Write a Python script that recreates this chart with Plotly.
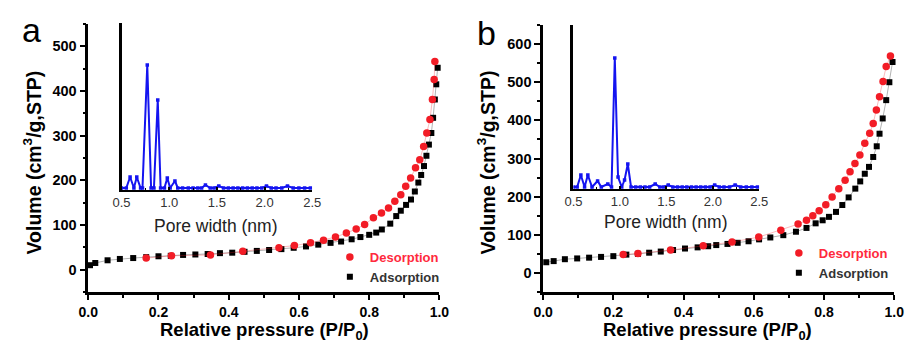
import plotly.graph_objects as go

# ---------------- data ----------------
# panel a isotherm
a_ads_p = [0.005, 0.02, 0.055, 0.09, 0.128, 0.165, 0.20, 0.235, 0.27, 0.305, 0.34, 0.375, 0.41, 0.445,
           0.48, 0.515, 0.55, 0.585, 0.62, 0.655, 0.69, 0.72, 0.75, 0.775, 0.80, 0.82, 0.836, 0.86,
           0.877, 0.89, 0.905, 0.919, 0.93, 0.94, 0.948, 0.956, 0.963, 0.97, 0.977, 0.982, 0.987,
           0.991, 0.995]
a_ads_v = [10, 15, 21, 24, 26, 28, 30, 31, 33, 34, 35, 37, 38, 40,
           42, 44, 46, 49, 52, 56, 60, 63, 68, 73, 78, 83, 90, 103,
           120, 132, 145, 157, 175, 195, 212, 232, 255, 280, 306, 340, 381,
           415, 452]
a_des_p = [0.165, 0.237, 0.348, 0.44, 0.543, 0.587, 0.633, 0.67, 0.704, 0.735, 0.763, 0.787, 0.812,
           0.835, 0.855, 0.873, 0.89, 0.904, 0.918, 0.932, 0.944, 0.955, 0.964, 0.973, 0.98, 0.985, 0.987]
a_des_v = [26, 31, 33, 41, 49, 54, 60, 66, 73, 82, 91, 101, 116,
           127, 138, 153, 168, 187, 205, 228, 246, 276, 306, 336, 381, 426, 466]

# panel b isotherm
b_ads_p = [0.009, 0.03, 0.062, 0.097, 0.131, 0.165, 0.20, 0.237, 0.27, 0.302, 0.335, 0.37, 0.404,
           0.44, 0.47, 0.493, 0.525, 0.554, 0.585, 0.615, 0.647, 0.684, 0.72, 0.75, 0.776, 0.796,
           0.814, 0.834, 0.852, 0.87, 0.889, 0.903, 0.916, 0.928, 0.94, 0.95, 0.958, 0.967, 0.977,
           0.986, 0.995]
b_ads_v = [28, 31, 36, 38, 40, 42, 44, 48, 50, 53, 56, 60, 64,
           67, 70, 73, 76, 79, 83, 88, 93, 99, 108, 118, 130, 138,
           147, 160, 178, 198, 221, 240, 260, 278, 304, 332, 365, 405, 453,
           500, 553]
b_des_p = [0.228, 0.27, 0.363, 0.456, 0.538, 0.614, 0.677, 0.726, 0.75, 0.768, 0.786, 0.805, 0.823,
           0.842, 0.86, 0.874, 0.888, 0.902, 0.916, 0.93, 0.94, 0.949, 0.958, 0.968, 0.977, 0.989]
b_des_v = [48, 51, 60, 71, 81, 94, 112, 128, 138, 150, 163, 179, 199,
           221, 243, 265, 287, 309, 340, 366, 392, 427, 462, 502, 541, 569]

# insets: pore size distribution (arbitrary units)
a_pore_w = [0.50, 0.55, 0.59, 0.63, 0.66, 0.70, 0.72, 0.77, 0.81, 0.84, 0.88, 0.91, 0.95, 0.98, 1.01,
            1.06, 1.09, 1.14, 1.20, 1.25, 1.30, 1.34, 1.38, 1.43, 1.47, 1.52, 1.57, 1.62, 1.67, 1.72,
            1.77, 1.82, 1.87, 1.92, 1.97, 2.02, 2.07, 2.12, 2.18, 2.24, 2.30, 2.36, 2.42, 2.48]
a_pore_d = [0, 0, 11, 0, 11, 0, 0, 123, 0, 0, 88, 0, 0, 10, 0,
            7, 0, 0, 0, 0, 0, 0, 3, 0, 0, 2, 0, 0, 0, 0,
            0, 0, 0, 0, 0, 2, 0, 0, 0, 2, 0, 0, 0, 0]
b_pore_w = [0.50, 0.54, 0.58, 0.62, 0.655, 0.70, 0.76, 0.80, 0.87, 0.91, 0.945, 0.98, 1.02, 1.05,
            1.085, 1.12, 1.17, 1.22, 1.27, 1.32, 1.38, 1.43, 1.47, 1.52, 1.57, 1.62, 1.67, 1.72,
            1.77, 1.82, 1.87, 1.92, 1.97, 2.02, 2.07, 2.12, 2.18, 2.24, 2.30, 2.36, 2.42, 2.48]
b_pore_d = [0, 0, 12, 0, 12, 0, 6, 0, 3, 0, 129, 10, 0, 7,
            23, 0, 0, 0, 0, 0, 3, 0, 0, 2, 0, 0, 0, 0,
            0, 0, 0, 0, 0, 2, 0, 0, 0, 2, 0, 0, 0, 0]

main_x_ticks = [0.0, 0.2, 0.4, 0.6, 0.8, 1.0]
a_y_ticks = [0, 100, 200, 300, 400, 500]
b_y_ticks = [0, 100, 200, 300, 400, 500, 600]
inset_x_ticks = [0.5, 1.0, 1.5, 2.0, 2.5]

# ---------------- style ----------------
W, H = 917, 345
FONT = "Liberation Sans, Arial, sans-serif"
RED = "#f21c26"
BLUE = "#1414f0"


def px_x(px):
    return px / W


def px_y(py):
    return 1 - py / H


fig = go.Figure()


def add_iso(p, v, color, lcolor, symbol, size, name, rank, xa, ya, leg):
    fig.add_trace(go.Scatter(x=p, y=v, mode="lines", showlegend=False, hoverinfo="skip",
                             line=dict(color=lcolor, width=1), xaxis=xa, yaxis=ya))
    fig.add_trace(go.Scatter(x=p, y=v, mode="markers", name=name,
                             marker=dict(symbol=symbol, size=size, color=color),
                             xaxis=xa, yaxis=ya, legend=leg, legendrank=rank, cliponaxis=False))


DES_NAME = "<span style='color:#ff2a3d'>Desorption</span>"
ADS_NAME = "<span style='color:#333333'>Adsorption</span>"

add_iso(a_ads_p, a_ads_v, "black", "rgba(0,0,0,0.3)", "square", 6, ADS_NAME, 2, "x", "y", "legend")
add_iso(a_des_p, a_des_v, RED, "rgba(242,28,38,0.3)", "circle", 7.5, DES_NAME, 1, "x", "y", "legend")
add_iso(b_ads_p, b_ads_v, "black", "rgba(0,0,0,0.3)", "square", 6, ADS_NAME, 2, "x2", "y2", "legend2")
add_iso(b_des_p, b_des_v, RED, "rgba(242,28,38,0.3)", "circle", 7.5, DES_NAME, 1, "x2", "y2", "legend2")

# insets
fig.add_trace(go.Scatter(x=a_pore_w, y=a_pore_d, mode="lines+markers", showlegend=False,
                         line=dict(color=BLUE, width=2), marker=dict(symbol="square", size=3.5, color=BLUE),
                         xaxis="x3", yaxis="y3"))
fig.add_trace(go.Scatter(x=b_pore_w, y=b_pore_d, mode="lines+markers", showlegend=False,
                         line=dict(color=BLUE, width=2), marker=dict(symbol="square", size=3.5, color=BLUE),
                         xaxis="x4", yaxis="y4"))

tickfont = dict(family=FONT, size=14.5, color="black", weight="bold")
xtickfont = dict(family=FONT, size=14, color="black", weight="bold")
main_axis = dict(showline=True, linecolor="black", linewidth=2.5, ticks="outside", ticklen=6,
                 tickwidth=2, tickcolor="black", showgrid=False, zeroline=False, tickfont=tickfont,
                 minor=dict(ticks="outside", ticklen=3, tickwidth=1.5, tickcolor="black"))
inset_x = dict(showline=True, linecolor="black", linewidth=1.5, ticks="inside", ticklen=3,
               tickwidth=1.5, tickcolor="black", showgrid=False, zeroline=False,
               tickfont=dict(family=FONT, size=13, color="#333"),
               minor=dict(ticks="inside", ticklen=2, tickwidth=1, tickcolor="black", dtick=0.25),
               range=[0.5, 2.5], tickvals=inset_x_ticks, ticktext=[f"{t:.1f}" for t in inset_x_ticks])
inset_y = dict(showline=True, linecolor="black", linewidth=3, ticks="", showticklabels=False,
               showgrid=False, zeroline=False)

fig.update_layout(
    width=W, height=H, margin=dict(l=0, r=0, t=0, b=0),
    paper_bgcolor="white", plot_bgcolor="rgba(0,0,0,0)",
    font=dict(family=FONT),
    xaxis=dict(main_axis, domain=[px_x(80), px_x(439)], range=[0, 1], anchor="y", ticklen=5,
               tickfont=xtickfont,
               tickvals=main_x_ticks, ticktext=[f"{t:.1f}" for t in main_x_ticks],
               minor=dict(main_axis["minor"], dtick=0.1)),
    yaxis=dict(main_axis, domain=[px_y(292), px_y(24)], range=[-50, 550], anchor="x",
               tickvals=a_y_ticks, minor=dict(main_axis["minor"], dtick=50)),
    xaxis2=dict(main_axis, domain=[px_x(545), px_x(904)], range=[0, 1], anchor="y2", ticklen=5,
                tickfont=xtickfont,
                tickvals=main_x_ticks, ticktext=[f"{t:.1f}" for t in main_x_ticks],
                minor=dict(main_axis["minor"], dtick=0.1)),
    yaxis2=dict(main_axis, domain=[px_y(292), px_y(25)], range=[-50, 650], anchor="x2",
                tickvals=b_y_ticks, minor=dict(main_axis["minor"], dtick=50)),
    xaxis3=dict(inset_x, domain=[px_x(114), px_x(309)], anchor="y3"),
    yaxis3=dict(inset_y, domain=[px_y(190), px_y(23)], range=[-2, 165], anchor="x3"),
    xaxis4=dict(inset_x, domain=[px_x(576), px_x(766)], anchor="y4"),
    yaxis4=dict(inset_y, domain=[px_y(189), px_y(25)], range=[-2, 162], anchor="x4"),
    legend=dict(x=px_x(327), y=px_y(242), xanchor="left", yanchor="top", bgcolor="rgba(0,0,0,0)",
                font=dict(family=FONT, size=13, weight="bold", color="#333"), tracegroupgap=0),
    legend2=dict(x=px_x(786), y=px_y(238), xanchor="left", yanchor="top", bgcolor="rgba(0,0,0,0)",
                 font=dict(family=FONT, size=13, weight="bold", color="#333"), tracegroupgap=0),
)

title_font = dict(family=FONT, size=19.5, color="black", weight="bold")
xtitle_font = dict(family=FONT, size=18.5, color="black", weight="bold")
annotations = [
    # panel letters
    dict(text="a", x=px_x(22), y=px_y(30), font=dict(family=FONT, size=34, color="black")),
    dict(text="b", x=px_x(487), y=px_y(33), font=dict(family=FONT, size=34, color="black")),
    # main axis titles
    dict(text="Volume (cm<sup>3</sup>/g,STP)", x=px_x(23), y=px_y(162), textangle=-90, font=title_font),
    dict(text="Volume (cm<sup>3</sup>/g,STP)", x=px_x(487), y=px_y(162), textangle=-90, font=title_font),
    dict(text="Relative pressure (P/P<sub>0</sub>)", x=px_x(260), y=px_y(344.5), yanchor="bottom",
         font=xtitle_font),
    dict(text="Relative pressure (P/P<sub>0</sub>)", x=px_x(713), y=px_y(344.5), yanchor="bottom",
         font=xtitle_font),
    # inset titles
    dict(text="Pore width (nm)", x=px_x(211), y=px_y(226), font=dict(family=FONT, size=17.5, color="#222")),
    dict(text="Pore width (nm)", x=px_x(671), y=px_y(222), font=dict(family=FONT, size=17.5, color="#222")),
]
for a in annotations:
    a.setdefault("yanchor", "middle")
    a.update(xref="paper", yref="paper", showarrow=False, xanchor="center")
fig.update_layout(annotations=annotations)

fig.write_html("out.html", config={"displayModeBar": False},
               post_script="document.body.style.margin='0';document.body.style.padding='0';")
